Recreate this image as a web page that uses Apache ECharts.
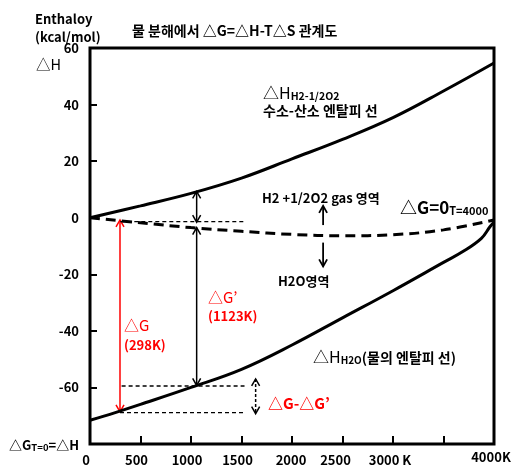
<!DOCTYPE html>
<html>
<head>
<meta charset="utf-8">
<script src="https://cdn.jsdelivr.net/npm/echarts@6/dist/echarts.min.js"></script>
<style>
html,body{margin:0;padding:0;background:#fff;}
#main{width:515px;height:467px;}
</style>
</head>
<body>
<div id="main"></div>
<script>
// 온도 T (K), 엔탈피 (kcal/mol)
var xTickLabels = ['0','500','1000','1500','2000','2500','3000 K','','4000K'];

// 수소-산소 엔탈피 선
var hH2O2 = [[0,0],[500,4.2],[1000,8.6],[1500,14.0],[2000,20.8],[2500,27.7],[3000,35.4],[3500,44.8],[4000,54.7]];
// 물의 엔탈피 선
var hH2O = [[0,-71.6],[250,-68.9],[500,-66.0],[1000,-60.0],[1500,-53.6],[2000,-45.0],[2500,-35.4],[3000,-25.8],[3500,-15.8],[3700,-11.8],[3875,-7.3],[3960,-3.2],[4000,-1.5]];
// ΔG=0 선
var gZero = [[0,0],[500,-1.8],[1000,-3.5],[1500,-4.8],[2000,-5.9],[2500,-6.4],[3000,-6.0],[3500,-4.3],[4000,-0.8]];

// 보조 점선 (수평)
var guideLevel = [-1.4, -59.5, -68.9];
var guideFrom  = [300, 313, 297];
var guideTo    = [1530, 1530, 1530];

// 화살표 (T, 위, 아래)
var arrowT      = [297, 1056, 1056, 1640, 2308, 2308];
var arrowTop    = [-0.8, 9.3, -3.5, -57.0, 4.2, -8.8];
var arrowBottom = [-68.6, -1.6, -59.3, -69.3, -2.6, -17.2];

var arrowStyle = [
  {color:'#ff0000', w:1.5, top:true,  bottom:true,  dash:false},
  {color:'#000',    w:1.5, top:true,  bottom:true,  dash:false},
  {color:'#000',    w:1.5, top:true,  bottom:true,  dash:false},
  {color:'#000',    w:1.5, top:true,  bottom:true,  dash:true},
  {color:'#000',    w:1.8, top:true,  bottom:false, dash:false},
  {color:'#000',    w:1.8, top:false, bottom:true,  dash:false}
];

var FONT = "'Noto Sans CJK KR', sans-serif";
var RED = '#ff0000';

var series = [
  {type:'line', data:hH2O2, smooth:0.4, showSymbol:false, lineStyle:{color:'#000', width:3}},
  {type:'line', data:hH2O, smooth:0.4, showSymbol:false, lineStyle:{color:'#000', width:3}},
  {type:'line', data:gZero, smooth:0.4, showSymbol:false, lineStyle:{color:'#000', width:3, type:[10,6]}}
];
for (var i = 0; i < guideLevel.length; i++) {
  series.push({
    type:'line', showSymbol:false,
    data:[[guideFrom[i], guideLevel[i]], [guideTo[i], guideLevel[i]]],
    lineStyle:{color:'#000', width:1.3, type:[4,3]}
  });
}
series.push({
  type:'custom',
  clip:false,
  encode:{x:0, y:[1,2]},
  data:arrowT.map(function(t, i){ return [t, arrowTop[i], arrowBottom[i]]; }),
  renderItem:function(params, api){
    var st = arrowStyle[params.dataIndex];
    var p1 = api.coord([api.value(0), api.value(1)]);
    var p2 = api.coord([api.value(0), api.value(2)]);
    var hw = 4, hh = 7;
    var ls = {stroke:st.color, lineWidth:st.w, fill:null, lineDash: st.dash ? [3,2] : null};
    var kids = [{type:'line', shape:{x1:p1[0], y1:p1[1], x2:p2[0], y2:p2[1]}, style:ls}];
    var hs = {stroke:st.color, lineWidth:st.w, fill:null};
    if (st.top) kids.push({type:'polyline', shape:{points:[[p1[0]-hw,p1[1]+hh],[p1[0],p1[1]],[p1[0]+hw,p1[1]+hh]]}, style:hs});
    if (st.bottom) kids.push({type:'polyline', shape:{points:[[p2[0]-hw,p2[1]-hh],[p2[0],p2[1]],[p2[0]+hw,p2[1]-hh]]}, style:hs});
    return {type:'group', children:kids};
  }
});

function txt(x, y, text, size, weight, color, rich, align) {
  var st = {text:text, fontSize:size, fontWeight:weight, fontFamily:FONT, fill:color || '#000',
            textAlign:align || 'left', textVerticalAlign:'middle'};
  if (rich) st.rich = rich;
  return {type:'text', x:x, y:y, silent:true, style:st};
}
var subRich = function(big, small, color, bigWeight, extra) {
  var r = {
    a:{fontSize:big, fontFamily:FONT, fontWeight:bigWeight || 'normal', color:color, verticalAlign:'bottom', lineHeight:big+2},
    s:{fontSize:small, fontFamily:FONT, fontWeight:'bold', color:color, verticalAlign:'bottom', lineHeight:small+2}
  };
  if (extra) r.k = extra;
  return r;
};

// x축 라벨 위치 보정 (오른쪽 여백으로 왼쪽 이동)
var xShift = [8, 8, 8, 8, 2, 14, 6, 0, 0];
var xRich = {};
xShift.forEach(function(p, i){
  xRich['p' + i] = {fontSize:13, fontWeight:'bold', fontFamily:FONT, color:'#000', padding:[0, p, 0, 0]};
});

var MyEchart = echarts.init(document.getElementById('main'));
var option = {
  animation:false,
  backgroundColor:'#fff',
  grid:{left:90, right:21, top:48, bottom:20, show:true, borderColor:'#000', borderWidth:3},
  xAxis:{
    type:'value', min:0, max:4000, interval:500,
    axisLine:{show:false, onZero:false},
    splitLine:{show:false},
    axisTick:{show:true, inside:true, length:8, lineStyle:{color:'#000', width:2}},
    axisLabel:{
      margin:10, color:'#000', fontSize:13, fontWeight:'bold', fontFamily:FONT,
      showMinLabel:true, showMaxLabel:true,
      formatter:function(v){
        var idx = Math.round(v / 500);
        if (idx >= 7) return '';
        return '{p' + idx + '|' + xTickLabels[idx] + '}';
      },
      rich:xRich
    }
  },
  yAxis:{
    type:'value', min:-80, max:60, interval:20,
    axisLine:{show:false, onZero:false},
    splitLine:{show:false},
    axisTick:{show:true, inside:true, length:7, lineStyle:{color:'#000', width:2}},
    axisLabel:{
      margin:11, color:'#000', fontSize:13, fontWeight:'bold', fontFamily:FONT,
      showMinLabel:true, showMaxLabel:true,
      formatter:function(v){
        if (v === -80) return '{a|△G}{s|T=0}{a|=△H}';
        return String(v);
      },
      rich:{
        a:{fontSize:13, fontFamily:FONT, fontWeight:'bold', color:'#000', verticalAlign:'bottom', lineHeight:16},
        s:{fontSize:9.5, fontFamily:FONT, fontWeight:'bold', color:'#000', verticalAlign:'bottom', lineHeight:12}
      }
    }
  },
  series:series,
  graphic:[
    txt(132, 31, '물 분해에서 △G=△H-T△S 관계도', 14, 'bold'),
    txt(35, 19, 'Enthaloy', 13, 'bold'),
    txt(35, 37, '(kcal/mol)', 13, 'bold'),
    txt(36, 64, '△H', 14.5, 'normal'),
    txt(263, 92, '{a|△H}{s|H2-1/2O2}', 16, 'normal', '#000', subRich(16, 10.5, '#000')),
    txt(263, 111, '수소-산소 엔탈피 선', 14, 'bold'),
    txt(262, 198, 'H2 +1/2O2 gas 영역', 13, 'bold'),
    txt(400, 207, '{a|△G=0}{s|T=4000}', 17, 'bold', '#000', subRich(17, 11, '#000', 'bold')),
    txt(278, 281, 'H2O영역', 13, 'bold'),
    txt(208, 297, '△G’', 15, 'normal', RED),
    txt(208, 316, '(1123K)', 13, 'bold', RED),
    txt(124, 325, '△G', 15, 'normal', RED),
    txt(124, 345, '(298K)', 13, 'bold', RED),
    txt(313, 356, '{a|△H}{s|H2O}{k|(물의 엔탈피 선)}', 16, 'normal', '#000',
        subRich(16, 10, '#000', 'normal', {fontSize:14, fontFamily:FONT, fontWeight:'bold', color:'#000', verticalAlign:'bottom', lineHeight:17})),
    txt(268, 403, '△G-△G’', 15, 'bold', RED)
  ]
};
MyEchart.setOption(option);

// 4000K 라벨: 축 끝 위치를 축 스케일로 구해 약간 위에 표시
var xEnd = MyEchart.convertToPixel({xAxisIndex:0}, 4000);
var yBottom = MyEchart.convertToPixel({yAxisIndex:0}, -80);
var g = option.graphic.slice();
g.push(txt(xEnd - 3, yBottom + 13, xTickLabels[8], 13, 'bold', '#000', null, 'center'));
MyEchart.setOption({graphic:g});
</script>
</body>
</html>
